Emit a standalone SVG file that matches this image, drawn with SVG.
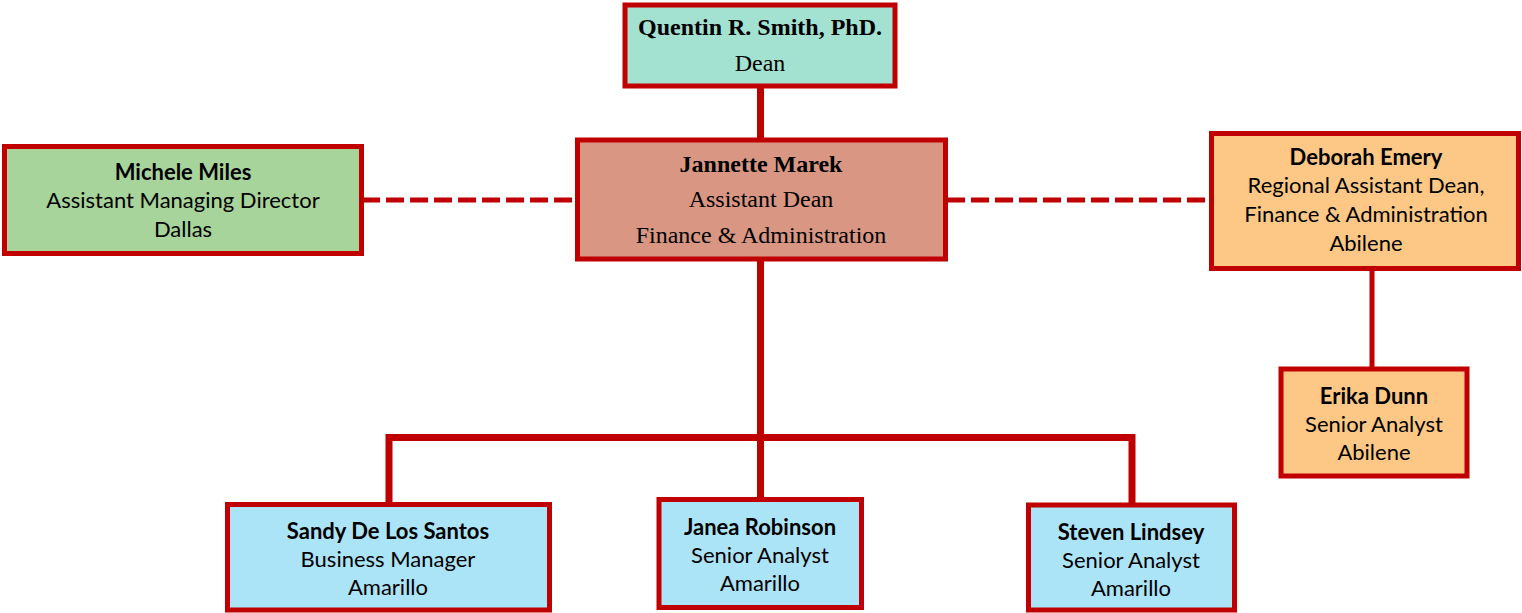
<svg xmlns="http://www.w3.org/2000/svg" width="1522" height="613" viewBox="0 0 1522 613">
<style>
.box{stroke:#C00000;stroke-width:5}
.serif{font-family:"Liberation Serif","Times New Roman",serif;font-size:24px;fill:#000;text-anchor:middle}
.sans{font-family:Lato,"Liberation Sans",sans-serif;font-size:22px;fill:#000;text-anchor:middle}
.b{font-weight:bold}
.solid{stroke:#C00000;stroke-width:7;fill:none}
.thin{stroke:#C00000;stroke-width:5;fill:none}
.dash{stroke:#C00000;stroke-width:5;fill:none;stroke-dasharray:18 6}
</style>
<g id="connectors">
<line class="solid" x1="760.5" y1="88" x2="760.5" y2="139"/>
<line class="solid" x1="760.5" y1="261" x2="760.5" y2="499"/>
<polyline class="solid" points="389,504 389,437.5 1132,437.5 1132,505"/>
<line class="dash" x1="362" y1="200" x2="576" y2="200"/>
<line class="dash" x1="947" y1="200" x2="1211" y2="200"/>
<line class="thin" x1="1372" y1="270" x2="1372" y2="368"/>
</g>
<g id="dean">
<rect class="box" x="625" y="5" width="270" height="81" fill="#A3E2D1"/>
<text class="serif b" x="760" y="35">Quentin R. Smith, PhD.</text>
<text class="serif" x="760" y="71">Dean</text>
</g>
<g id="assistant-dean">
<rect class="box" x="577.5" y="140" width="368" height="119" fill="#D89683"/>
<text class="serif b" x="761" y="172">Jannette Marek</text>
<text class="serif" x="761" y="207">Assistant Dean</text>
<text class="serif" x="761" y="243">Finance &amp; Administration</text>
</g>
<g id="michele">
<rect class="box" x="4.5" y="146.5" width="357" height="107" fill="#A7D49B"/>
<text class="sans b" x="183" y="179.5">Michele Miles</text>
<text class="sans" x="183" y="207.5">Assistant Managing Director</text>
<text class="sans" x="183" y="236.5">Dallas</text>
</g>
<g id="deborah">
<rect class="box" x="1211.5" y="133.5" width="307" height="135" fill="#FDC885"/>
<text class="sans b" x="1366" y="164.5">Deborah Emery</text>
<text class="sans" x="1366" y="192.5">Regional Assistant Dean,</text>
<text class="sans" x="1366" y="221.5">Finance &amp; Administration</text>
<text class="sans" x="1366" y="250.5">Abilene</text>
</g>
<g id="erika">
<rect class="box" x="1281" y="369" width="186" height="107" fill="#FDC885"/>
<text class="sans b" x="1374" y="403.5">Erika Dunn</text>
<text class="sans" x="1374" y="431.5">Senior Analyst</text>
<text class="sans" x="1374" y="459.5">Abilene</text>
</g>
<g id="sandy">
<rect class="box" x="227.5" y="504.5" width="322" height="105.5" fill="#ACE4F7"/>
<text class="sans b" x="388" y="538.5">Sandy De Los Santos</text>
<text class="sans" x="388" y="566.5">Business Manager</text>
<text class="sans" x="388" y="594.5">Amarillo</text>
</g>
<g id="janea">
<rect class="box" x="659" y="499.5" width="202.5" height="108" fill="#ACE4F7"/>
<text class="sans b" x="760" y="534.5">Janea Robinson</text>
<text class="sans" x="760" y="563">Senior Analyst</text>
<text class="sans" x="760" y="590.5">Amarillo</text>
</g>
<g id="steven">
<rect class="box" x="1028.5" y="505" width="206" height="105" fill="#ACE4F7"/>
<text class="sans b" x="1131" y="539.5">Steven Lindsey</text>
<text class="sans" x="1131" y="568">Senior Analyst</text>
<text class="sans" x="1131" y="595.5">Amarillo</text>
</g>
</svg>
